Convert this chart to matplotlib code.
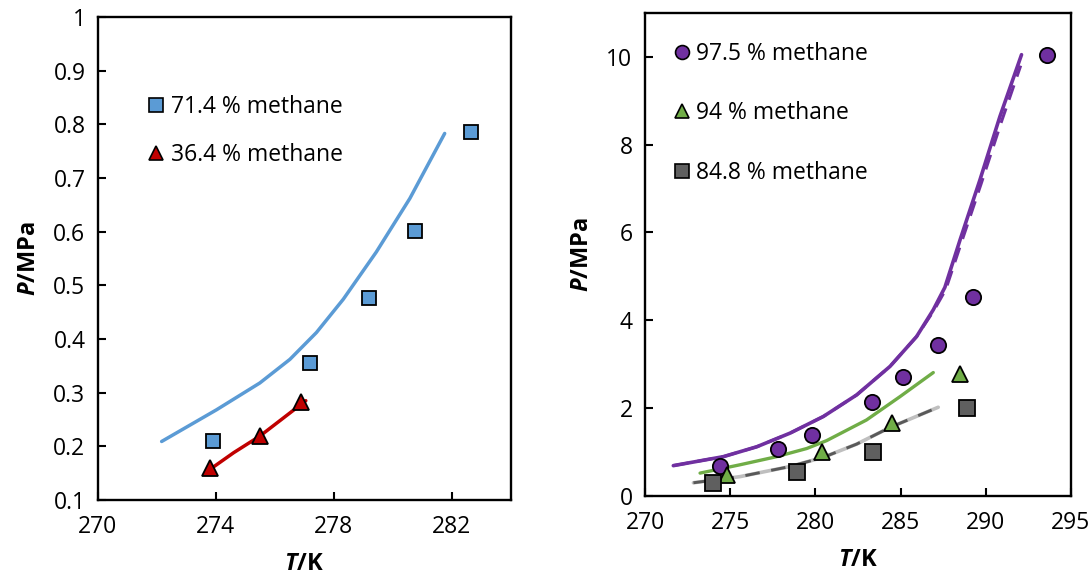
import matplotlib
matplotlib.use('Agg')
import matplotlib.pyplot as plt
from matplotlib.lines import Line2D

plt.rcParams['font.family'] = ['Open Sans', 'DejaVu Sans']
plt.rcParams['mathtext.fontset'] = 'custom'
plt.rcParams['mathtext.it'] = 'Open Sans:italic:bold'
plt.rcParams['mathtext.rm'] = 'Open Sans:bold'

# ---- left panel: low-methane mixtures ----
T_714 = [273.89, 277.19, 279.18, 280.77, 282.66]
P_714 = [0.209, 0.356, 0.477, 0.602, 0.785]
T_714_model = [272.16, 274.02, 275.49, 276.51, 277.41, 278.32, 279.44, 280.58, 281.76]
P_714_model = [0.209, 0.268, 0.318, 0.362, 0.412, 0.474, 0.562, 0.662, 0.783]

T_364 = [273.80, 275.49, 276.88]
P_364 = [0.159, 0.219, 0.283]
T_364_model = [273.80, 274.60, 275.49, 276.20, 277.05]
P_364_model = [0.157, 0.188, 0.219, 0.249, 0.285]

# ---- right panel: high-methane mixtures ----
T_975 = [274.40, 277.79, 279.78, 283.30, 285.16, 287.17, 289.23, 293.57]
P_975 = [0.69, 1.06, 1.39, 2.13, 2.72, 3.43, 4.54, 10.05]
T_975_model = [271.66, 274.60, 276.56, 278.51, 280.47, 282.42, 284.38, 285.94,
               286.92, 287.60, 288.49, 289.66, 290.83, 292.10]
P_975_model = [0.69, 0.895, 1.12, 1.43, 1.81, 2.30, 2.95, 3.63,
               4.24, 4.75, 5.83, 7.20, 8.64, 10.05]
T_975_model2 = [271.66, 274.60, 276.56, 278.51, 280.47, 282.42, 284.38, 285.94,
                286.95, 287.65, 288.55, 289.72, 290.90, 292.05]
P_975_model2 = [0.69, 0.895, 1.12, 1.43, 1.81, 2.30, 2.95, 3.63,
                4.22, 4.70, 5.75, 7.10, 8.50, 9.80]

T_94 = [274.83, 280.39, 284.49, 288.49]
P_94 = [0.48, 0.99, 1.66, 2.77]
T_94_model = [273.23, 275.58, 277.73, 279.49, 280.66, 283.00, 284.96, 286.92]
P_94_model = [0.52, 0.71, 0.895, 1.08, 1.26, 1.73, 2.26, 2.81]

T_848 = [274.01, 278.90, 283.40, 288.88]
P_848 = [0.29, 0.55, 1.01, 2.00]
T_848_model = [272.84, 275.58, 278.51, 280.47, 282.42, 284.38, 287.21]
P_848_model = [0.30, 0.44, 0.67, 0.88, 1.18, 1.56, 2.02]

blue = '#5b9bd5'
red = '#c00000'
purple = '#7030a0'
green = '#70ad47'
grey = '#5f5f5f'

fig = plt.figure(figsize=(10.92, 5.76), dpi=100)
ax1 = fig.add_axes([0.0897, 0.132, 0.378, 0.8385])
ax2 = fig.add_axes([0.5907, 0.139, 0.390, 0.8385])

ax1.plot(T_714_model, P_714_model, color=blue, lw=2.5, solid_capstyle='round',
         solid_joinstyle='round')
ax1.plot(T_364_model, P_364_model, color=red, lw=2.5, solid_capstyle='round')
ax1.plot(T_714, P_714, 's', ms=10, mfc=blue, mec='black', mew=1.3, ls='none')
ax1.plot(T_364, P_364, '^', ms=11, mfc=red, mec='black', mew=1.3, ls='none')

ax2.plot(T_975_model, P_975_model, color=purple, lw=2.6, solid_capstyle='round',
         solid_joinstyle='round')
ax2.plot(T_975_model2, P_975_model2, color=purple, lw=2.2, ls=(0, (5, 3)))
ax2.plot(T_94_model, P_94_model, color=green, lw=2.4, solid_capstyle='round',
         solid_joinstyle='round')
ax2.plot(T_848_model, P_848_model, color='#bfbfbf', lw=2.6, solid_capstyle='round',
         solid_joinstyle='round')
ax2.plot(T_848_model, P_848_model, color='#595959', lw=2.1, ls=(0, (5, 4)))
ax2.plot(T_975, P_975, 'o', ms=11, mfc=purple, mec='black', mew=1.3, ls='none')
ax2.plot(T_94, P_94, '^', ms=11, mfc=green, mec='black', mew=1.3, ls='none')
ax2.plot(T_848, P_848, 's', ms=11, mfc=grey, mec='black', mew=1.3, ls='none')

ax1.set_xlim(270, 284)
ax1.set_ylim(0.1, 1.0)
ax1.set_xticks([270, 274, 278, 282])
ax1.set_yticks([0.1, 0.2, 0.3, 0.4, 0.5, 0.6, 0.7, 0.8, 0.9, 1.0])
ax1.set_yticklabels(['0.1', '0.2', '0.3', '0.4', '0.5', '0.6', '0.7', '0.8', '0.9', '1'])

ax2.set_xlim(270, 295)
ax2.set_ylim(0, 11)
ax2.set_xticks([270, 275, 280, 285, 290, 295])
ax2.set_yticks([0, 2, 4, 6, 8, 10])

for ax in (ax1, ax2):
    for sp in ax.spines.values():
        sp.set_linewidth(1.7)
    ax.tick_params(direction='in', length=6, width=1.5, labelsize=16.5)
    ax.tick_params(axis='x', pad=11)
    ax.tick_params(axis='y', pad=9)
    ax.set_xlabel(r'$T$/K', fontsize=17, fontweight='bold', labelpad=9)
    ax.set_ylabel(r'$P$/MPa', fontsize=17, fontweight='bold', labelpad=9)

def legend_handle(marker, color, size):
    return Line2D([], [], marker=marker, ls='none', ms=size, mfc=color,
                  mec='black', mew=1.2)

ax1.legend([legend_handle('s', blue, 10), legend_handle('^', red, 10.5)],
           ['71.4 % methane', '36.4 % methane'],
           loc='center left', bbox_to_anchor=(0.121, 0.764), frameon=False,
           fontsize=16.5, handlelength=0.75, handletextpad=0.25, labelspacing=1.05,
           borderpad=0, borderaxespad=0)
ax2.legend([legend_handle('o', purple, 10), legend_handle('^', green, 10),
            legend_handle('s', grey, 10)],
           ['97.5 % methane', '94 % methane', '84.8 % methane'],
           loc='center left', bbox_to_anchor=(0.067, 0.792), frameon=False,
           fontsize=16.5, handlelength=0.75, handletextpad=0.25, labelspacing=1.55,
           borderpad=0, borderaxespad=0)

fig.savefig('out.png', dpi=100)
